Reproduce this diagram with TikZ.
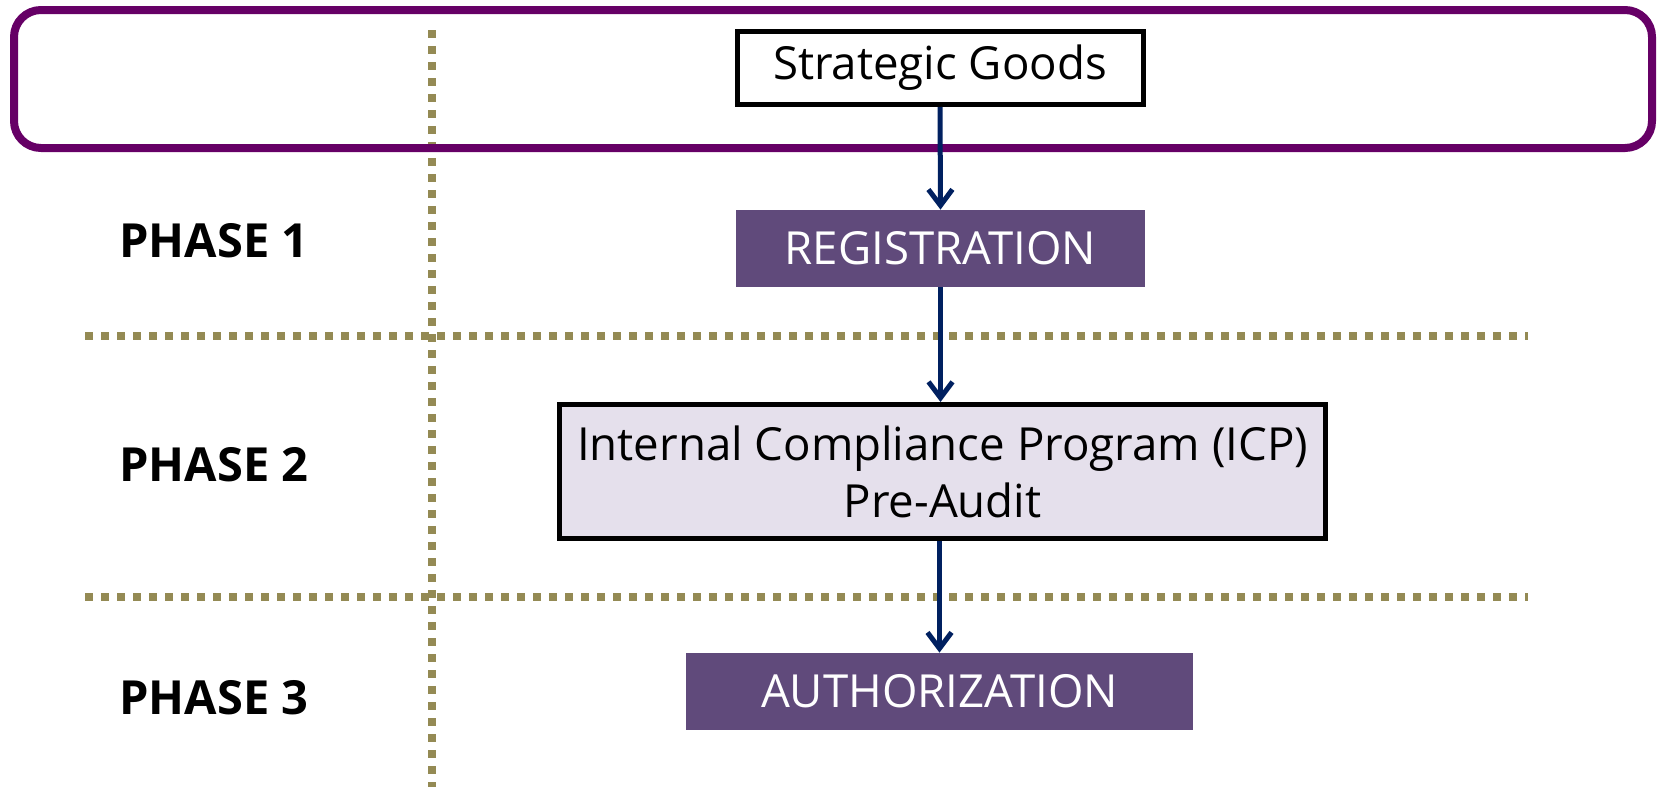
\documentclass[tikz,border=0pt]{standalone}
\usepackage{color}
\usepackage{fontspec}
\setmainfont{Open Sans}
\usepackage{tikz}
\usetikzlibrary{arrows.meta}

\definecolor{framepurple}{HTML}{660066}
\definecolor{boxpurple}{HTML}{604A7B}
\definecolor{lavender}{HTML}{E5E0EC}
\definecolor{navy}{HTML}{002060}
\definecolor{olive}{HTML}{948A54}

\begin{document}
\begin{tikzpicture}[x=0.5pt, y=-0.5pt,
             every node/.style = {shape=rectangle, inner sep=0pt, align=center,
                                  font=\fontsize{22.8}{28.5}\selectfont},
             plainbox/.style = {draw=black, line width=2.5pt, fill=white},
             phasebox/.style = {fill=boxpurple, text=white},
             phase/.style = {anchor=west, font=\fontsize{23.5}{28}\selectfont\bfseries},
             divider/.style = {draw=olive, line width=4pt, dash pattern=on 4pt off 4pt},
             flow/.style = {-{Straight Barb[length=8pt, width=12pt, line width=2.5pt]},
                            draw=navy, line width=2.5pt}]
\useasboundingbox (0,0) rectangle (1658,787);

\draw [divider] (432,30) -- (432,787);
\draw [divider] (85,336) -- (1528,336);
\draw [divider] (85,597) -- (1528,597);

\draw [draw=framepurple, line width=4pt, rounded corners=13.5pt] (14,10) rectangle (1652,148);

\node (goods) at (940,68) [plainbox, minimum width=203pt, minimum height=36.5pt] {Strategic Goods};
\node (reg) at (940.5,248.5) [phasebox, minimum width=204.5pt, minimum height=38.5pt] {REGISTRATION};
\node (icp) at (942.5,471.5) [plainbox, fill=lavender, minimum width=383pt, minimum height=67pt]
  {Internal Compliance Program (ICP)\\Pre-Audit};
\node (auth) at (939.5,691.5) [phasebox, minimum width=253.5pt, minimum height=38.5pt] {AUTHORIZATION};

\node (p1) at (119,241) [phase] {PHASE 1};
\node (p2) at (119,465) [phase] {PHASE 2};
\node (p3) at (119,698) [phase] {PHASE 3};

\draw [flow] (goods.south) -- (reg.north);
\draw [flow] (reg.south) -- (reg.south |- icp.north);
\draw [flow] (icp.south -| auth.north) -- (auth.north);

\end{tikzpicture}
\end{document}
